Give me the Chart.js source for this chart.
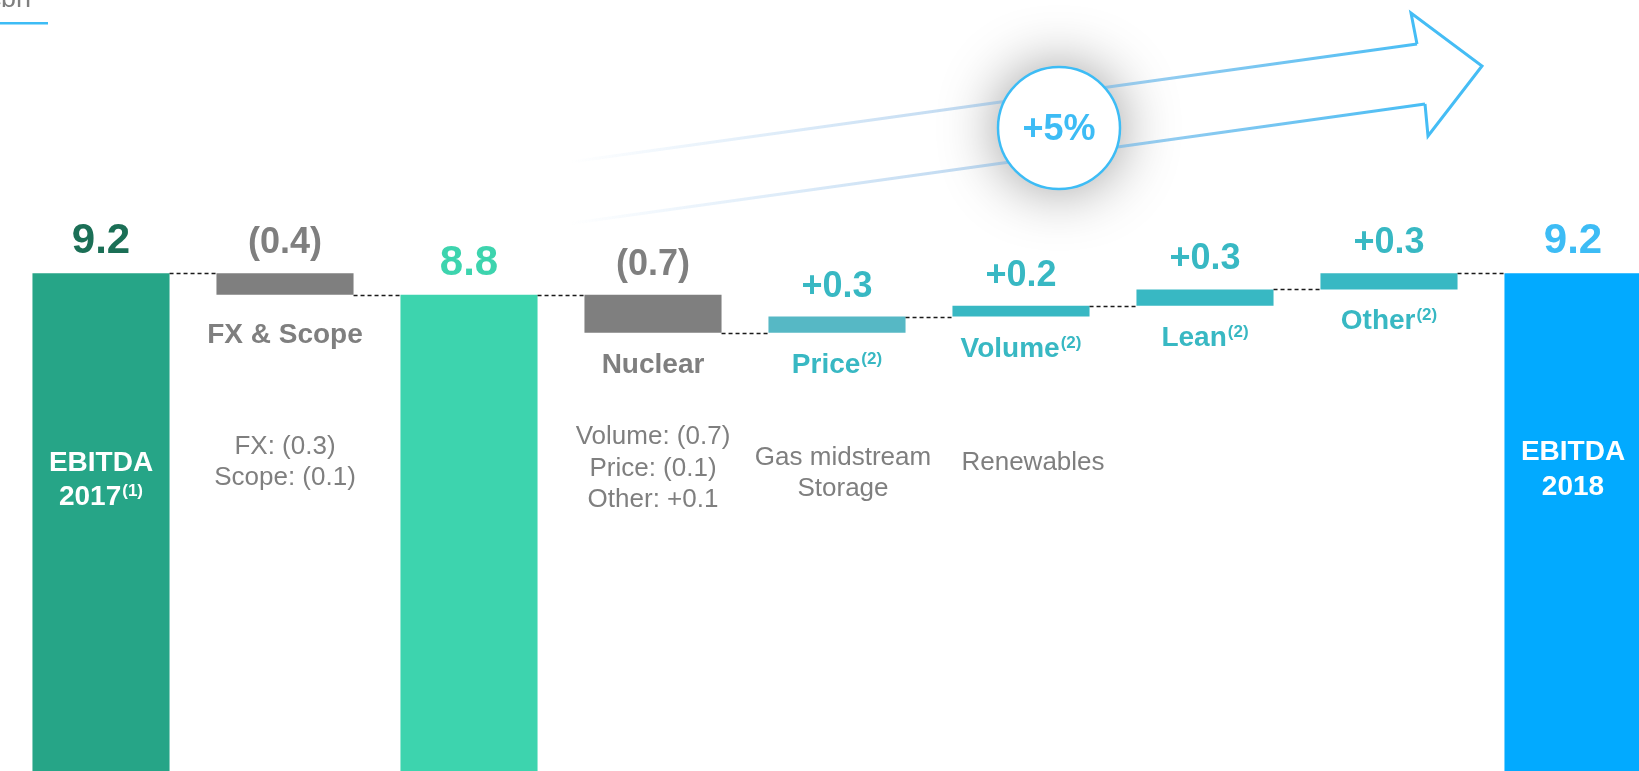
<!DOCTYPE html>
<html><head><meta charset="utf-8">
<script src="https://cdn.jsdelivr.net/npm/chart.js@4.4.1/dist/chart.umd.min.js"></script>
<style>
html,body{margin:0;padding:0;background:#fff;overflow:hidden;width:1639px;height:771px;}
#wrap{position:absolute;left:0;top:0;width:1665px;height:771px;}
</style></head><body>
<div id="wrap"><canvas id="c"></canvas></div>
<script>
// ---- data ----
const categories = ['EBITDA 2017','FX & Scope','EBITDA 2017 adj.','Nuclear','Price','Volume','Lean','Other','EBITDA 2018'];
const kinds = ['total','delta','total','delta','delta','delta','delta','delta','total'];
const values = [9.2, -0.4, 8.8, -0.7, 0.3, 0.2, 0.3, 0.3, 9.2];
const valueLabels = ['9.2','(0.4)','8.8','(0.7)','+0.3','+0.2','+0.3','+0.3','9.2'];
const categoryNames = ['','FX & Scope','','Nuclear','Price','Volume','Lean','Other',''];
const categorySups = ['','','','','(2)','(2)','(2)','(2)',''];
const insideLabels = [['EBITDA','2017'],[],[],[],[],[],[],[],['EBITDA','2018']];
const insideSups = ['(1)','','','','','','','',''];
const breakdownLines = [[],['FX: (0.3)','Scope: (0.1)'],[],['Volume: (0.7)','Price: (0.1)','Other: +0.1'],['Gas midstream','Storage'],['Renewables'],[],[],[]];
const unitLabel = '€bn';
const growthLabel = '+5%';

// ---- styles ----
const FONT = "'Liberation Sans', Arial, sans-serif";
const GRAY = '#7f7f7f', TEAL = '#38b8c3', BLUE = '#3dbcf5';
const barColors = ['#26a587','#7f7f7f','#3dd4ae','#7f7f7f','#56b8c5','#38b8c3','#38b8c3','#38b8c3','#02aaff'];
const valueColors = ['#1b6f56',GRAY,'#3dd4ae',GRAY,TEAL,TEAL,TEAL,TEAL,BLUE];
const nameColors = [GRAY,GRAY,GRAY,GRAY,TEAL,TEAL,TEAL,TEAL,GRAY];
const nameExtraDrop = [0,8,0,0,0,0,0,0,0];
const insideTextY = [[471,505],[],[],[],[],[],[],[],[460,495]];
const noteMidY = [0,469.5,0,475.5,480.5,470,0,0,0];
const noteShiftX = [0,0,0,0,6,12,0,0,0];

// build floating bars
let run = 0; const floating = []; const levels = [];
values.forEach((v,i)=>{
  if (kinds[i]==='total'){ floating.push([0, v]); run = v; }
  else { floating.push([run, Math.round((run+v)*100)/100]); run = Math.round((run+v)*100)/100; }
  levels.push(run);
});

function textWithSup(ctx, text, sup, cx, baseline, font, supFont, rise, color){
  ctx.font = font; const w1 = ctx.measureText(text).width;
  ctx.font = supFont; const w2 = sup ? ctx.measureText(sup).width + 1 : 0;
  const x0 = cx - (w1 + w2)/2;
  ctx.fillStyle = color; ctx.textAlign = 'left'; ctx.textBaseline = 'alphabetic';
  ctx.font = font; ctx.fillText(text, x0, baseline);
  if (sup){ ctx.font = supFont; ctx.fillText(sup, x0 + w1 + 1, baseline - rise); }
}

const decoPlugin = {
  id:'deco',
  beforeDatasetsDraw(chart){
    const ctx = chart.ctx; ctx.save();
    // unit label + underline
    ctx.fillStyle = GRAY; ctx.font = '27px ' + FONT; ctx.textAlign='right'; ctx.textBaseline='alphabetic';
    ctx.fillText(unitLabel, 31, 7);
    ctx.fillStyle = BLUE; ctx.fillRect(0, 22, 48, 2.5);
    // circle shadow
    const cx = 1059, cy = 128, r = 61;
    ctx.save();
    ctx.shadowColor = 'rgba(0,0,0,0.42)'; ctx.shadowBlur = 60;
    ctx.beginPath(); ctx.arc(cx, cy, r, 0, Math.PI*2); ctx.fillStyle = '#fff'; ctx.fill();
    ctx.restore();
    // arrow shaft lines
    const g = ctx.createLinearGradient(570, 0, 1430, 0);
    g.addColorStop(0, 'rgba(120,180,235,0)');
    g.addColorStop(0.45, 'rgba(120,175,225,0.45)');
    g.addColorStop(1, 'rgba(69,189,245,1)');
    ctx.strokeStyle = g; ctx.lineWidth = 3; ctx.lineCap='butt';
    ctx.beginPath(); ctx.moveTo(570, 162); ctx.lineTo(1417, 44); ctx.stroke();
    ctx.beginPath(); ctx.moveTo(570, 223.5); ctx.lineTo(1425, 104); ctx.stroke();
    // arrow head
    ctx.strokeStyle = '#45bdf5'; ctx.lineWidth = 3; ctx.lineJoin='miter';
    ctx.beginPath(); ctx.moveTo(1417,44); ctx.lineTo(1411,13); ctx.lineTo(1482,66); ctx.lineTo(1428,136); ctx.lineTo(1425,104); ctx.stroke();
    // circle
    ctx.beginPath(); ctx.arc(cx, cy, r, 0, Math.PI*2); ctx.fillStyle='#fff'; ctx.fill();
    ctx.strokeStyle = BLUE; ctx.lineWidth = 2.5; ctx.stroke();
    ctx.fillStyle = BLUE; ctx.font = 'bold 36px ' + FONT; ctx.textAlign='center'; ctx.textBaseline='middle';
    ctx.fillText(growthLabel, cx, cy + 2);
    ctx.restore();
  },
  afterDatasetsDraw(chart){
    const ctx = chart.ctx; const meta = chart.getDatasetMeta(0); const ys = chart.scales.y;
    ctx.save();
    // connectors
    ctx.strokeStyle = '#1a1a1a'; ctx.lineWidth = 1.5; ctx.setLineDash([4,3]);
    for (let i=0;i<meta.data.length-1;i++){
      const a = meta.data[i], b = meta.data[i+1];
      const y = Math.round(ys.getPixelForValue(levels[i])) + 0.5;
      ctx.beginPath(); ctx.moveTo(a.x + a.width/2, y); ctx.lineTo(b.x - b.width/2, y); ctx.stroke();
    }
    ctx.setLineDash([]);
    meta.data.forEach((el,i)=>{
      const top = Math.min(el.y, el.base), bottom = Math.max(el.y, el.base);
      // value label
      ctx.fillStyle = valueColors[i]; ctx.textAlign='center'; ctx.textBaseline='alphabetic';
      ctx.font = (kinds[i]==='total' ? 'bold 42px ' : 'bold 36px ') + FONT;
      ctx.fillText(valueLabels[i], el.x, top - 20);
      // category name below delta bars
      if (categoryNames[i]){
        textWithSup(ctx, categoryNames[i], categorySups[i], el.x, bottom + 40 + nameExtraDrop[i],
          'bold 28px ' + FONT, 'bold 17px ' + FONT, 9, nameColors[i]);
      }
      // inside labels
      insideLabels[i].forEach((t,k)=>{
        const sup = (k===insideLabels[i].length-1) ? insideSups[i] : '';
        textWithSup(ctx, t, sup, el.x, insideTextY[i][k], 'bold 28px ' + FONT, 'bold 17px ' + FONT, 9, '#ffffff');
      });
      // breakdown notes
      const lines = breakdownLines[i];
      if (lines.length){
        const lh = 31.5; const start = noteMidY[i] - (lines.length-1)*lh/2;
        ctx.fillStyle = GRAY; ctx.font = '26px ' + FONT; ctx.textAlign='center'; ctx.textBaseline='alphabetic';
        lines.forEach((t,k)=> ctx.fillText(t, el.x + noteShiftX[i], start + k*lh));
      }
    });
    ctx.restore();
  }
};

new Chart(document.getElementById('c'), {
  type:'bar',
  data:{ labels: categories, datasets:[{ data: floating, backgroundColor: barColors, borderWidth:0,
    categoryPercentage:1, barPercentage:0.745 }]},
  options:{
    responsive:true, maintainAspectRatio:false, animation:false,
    layout:{ padding:{ left:9, right:0, top:0, bottom:0 } },
    plugins:{ legend:{display:false}, tooltip:{enabled:false} },
    scales:{
      x:{ display:false, offset:true },
      y:{ display:false, min:0, max:14.25 }
    }
  },
  plugins:[decoPlugin]
});
</script>
</body></html>
